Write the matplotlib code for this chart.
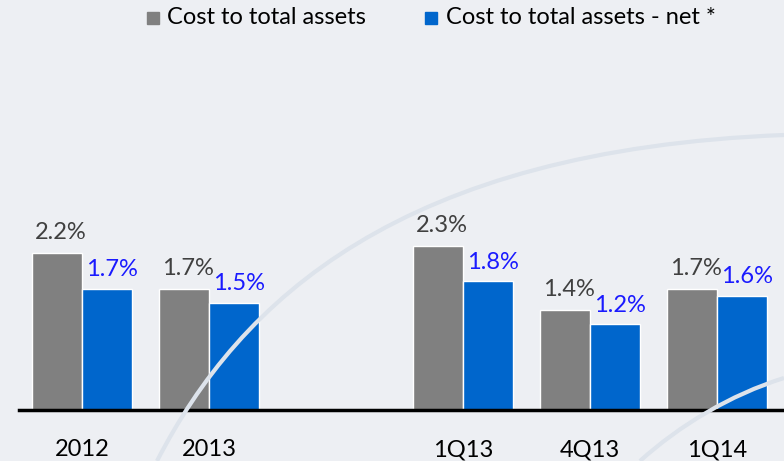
import matplotlib.pyplot as plt
from matplotlib.path import Path
from matplotlib.patches import PathPatch
import numpy as np

# Data
categories = ['2012', '2013', '1Q13', '4Q13', '1Q14']
positions = [0, 1, 3, 4, 5]
cost_total = [2.2, 1.7, 2.3, 1.4, 1.7]
cost_net = [1.7, 1.5, 1.8, 1.2, 1.6]
series_names = ['Cost to total assets', 'Cost to total assets - net *']

gray = '#808080'
blue = '#0066cc'
bg = '#edeff3'
W, H = 784, 461

plt.rcParams['font.family'] = ['Lato', 'DejaVu Sans']

fig = plt.figure(figsize=(W / 100, H / 100), dpi=100, facecolor=bg)


def fx(px):
    return px / W


def fy(py):
    return 1 - py / H


# faint background swooshes
for pts in [[(157, 461), (240, 300), (400, 150), (784, 135)],
            [(640, 461), (680, 425), (730, 395), (784, 378)]]:
    verts = [(fx(a), fy(b)) for a, b in pts]
    p = Path(verts, [Path.MOVETO, Path.CURVE4, Path.CURVE4, Path.CURVE4])
    fig.patches.append(PathPatch(p, transform=fig.transFigure, fill=False,
                                 edgecolor='#dde3eb', linewidth=3))

ax = fig.add_axes([fx(19), 51 / H, 1 - fx(19), 350 / H])
ax.set_facecolor('none')

w = 0.395
x = np.array(positions, dtype=float)
ax.bar(x - w / 2, cost_total, width=w, color=gray, edgecolor='white', linewidth=1)
ax.bar(x + w / 2, cost_net, width=w, color=blue, edgecolor='white', linewidth=1)

# value labels
for xi, v in zip(x, cost_total):
    ax.annotate(f'{v:.1f}%', (xi - w / 2, v), xytext=(3, 10), textcoords='offset points',
                ha='center', va='baseline', fontsize=17, color='#404040')
for xi, v in zip(x, cost_net):
    ax.annotate(f'{v:.1f}%', (xi + w / 2, v), xytext=(3.5, 9), textcoords='offset points',
                ha='center', va='baseline', fontsize=17, color='#1a1aff')

ax.set_xlim(-0.496, 5.53)
ax.set_ylim(0, 4.9)

for s in ['top', 'right', 'left']:
    ax.spines[s].set_visible(False)
ax.spines['bottom'].set_linewidth(2.5)
ax.spines['bottom'].set_color('black')
ax.set_yticks([])
ax.set_xticks(x)
ax.set_xticklabels(categories, fontsize=17, color='black')
ax.tick_params(axis='x', length=0, pad=21)

# legend
fig.patches.append(plt.Rectangle((fx(147), fy(24)), 12 / W, 12 / H,
                                 transform=fig.transFigure, color=gray))
fig.text(fx(167), fy(18), series_names[0], fontsize=17, va='center', ha='left')
fig.patches.append(plt.Rectangle((fx(425), fy(24)), 12 / W, 12 / H,
                                 transform=fig.transFigure, color=blue))
fig.text(fx(446), fy(18), series_names[1], fontsize=17, va='center', ha='left')

fig.savefig('out.png', dpi=100, facecolor=bg)
